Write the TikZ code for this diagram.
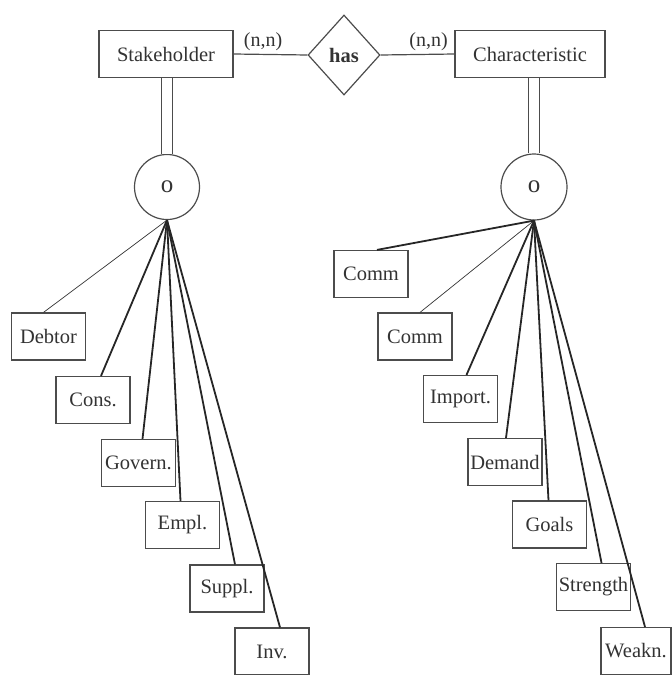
\documentclass[tikz,border=0pt]{standalone}
\usepackage{fontspec}
\setmainfont{Liberation Serif}
\usetikzlibrary{shapes.geometric}
\begin{document}
\begin{tikzpicture}[x=1pt, y=-1pt, every node/.style={font=\fontsize{20.5}{22}\selectfont, text=black!80},
  entity/.style={draw=black!70, line width=1.2pt, minimum width=#1, minimum height=47pt, inner sep=0pt},
  sub/.style={entity=74pt},
  link/.style={line width=1.8pt, black!85},
  thinlink/.style={line width=0.7pt, black!80}]
  \useasboundingbox (0,0) rectangle (672,675);
  % top row
  \node[entity=134pt] (stake) at (166,54) {Stakeholder};
  \node[draw=black!70, line width=1.2pt, diamond, minimum width=72pt, minimum height=80pt, inner sep=0pt,
        font=\fontsize{20.5}{22}\selectfont\bfseries] (has) at (344,55) {has};
  \node[entity=150pt] (charac) at (530,54) {Characteristic};
  \draw[line width=1.2pt, black!70] (stake.east) -- node[above, font=\fontsize{20}{22}\selectfont, pos=0.4] {(n,n)} (has.west);
  \draw[line width=1.2pt, black!70] (has.east) -- node[above, font=\fontsize{20}{22}\selectfont, pos=0.65] {(n,n)} (charac.west);
  % circles
  \node[draw=black!70, line width=1.2pt, circle, minimum size=65pt, inner sep=0pt, font=\fontsize{25}{27}\selectfont] (circL) at (167,187) {o};
  \node[draw=black!70, line width=1.2pt, circle, minimum size=66pt, inner sep=0pt, font=\fontsize{25}{27}\selectfont] (circR) at (534,187) {o};
  \draw[black!70, line width=1.1pt, double distance=10pt] (stake.south -| circL) -- (circL.north);
  \draw[black!70, line width=1.1pt, double distance=10pt] (charac.south -| circR) -- (circR.north);
  % left subtypes
  \node[sub] (debtor) at (48.5,336.5) {Debtor};
  \node[sub] (cons)   at (93,400)     {Cons.};
  \node[sub] (govern) at (138.5,463)  {Govern.};
  \node[sub] (empl)   at (182.5,525)  {Empl.};
  \node[sub] (suppl)  at (227,588.5)  {Suppl.};
  \node[sub] (inv)    at (272,651.5)  {Inv.};
  \draw[thinlink] (circL.south) -- ([xshift=-5pt]debtor.north);
  \foreach \n/\s in {cons/8, govern/4, empl/-2, suppl/8, inv/8}
    \draw[link] (circL.south) -- ([xshift=\s pt]\n.north);
  % right subtypes
  \node[sub] (comma)    at (371,274)   {Comm};
  \node[sub] (commb)    at (415,336.5) {Comm};
  \node[sub] (import)   at (460.5,399) {Import.};
  \node[sub] (demand)   at (505,462)   {Demand};
  \node[sub] (goals)    at (549.5,524.5) {Goals};
  \node[sub] (strength) at (593.5,587) {Strength};
  \node[entity=70pt] (weakn) at (636,651) {Weakn.};
  \draw[thinlink] (circR.south) -- ([xshift=5pt]commb.north);
  \foreach \n/\s in {comma/6, import/6, demand/1, goals/-1, strength/8, weakn/9}
    \draw[link] (circR.south) -- ([xshift=\s pt]\n.north);
\end{tikzpicture}
\end{document}
